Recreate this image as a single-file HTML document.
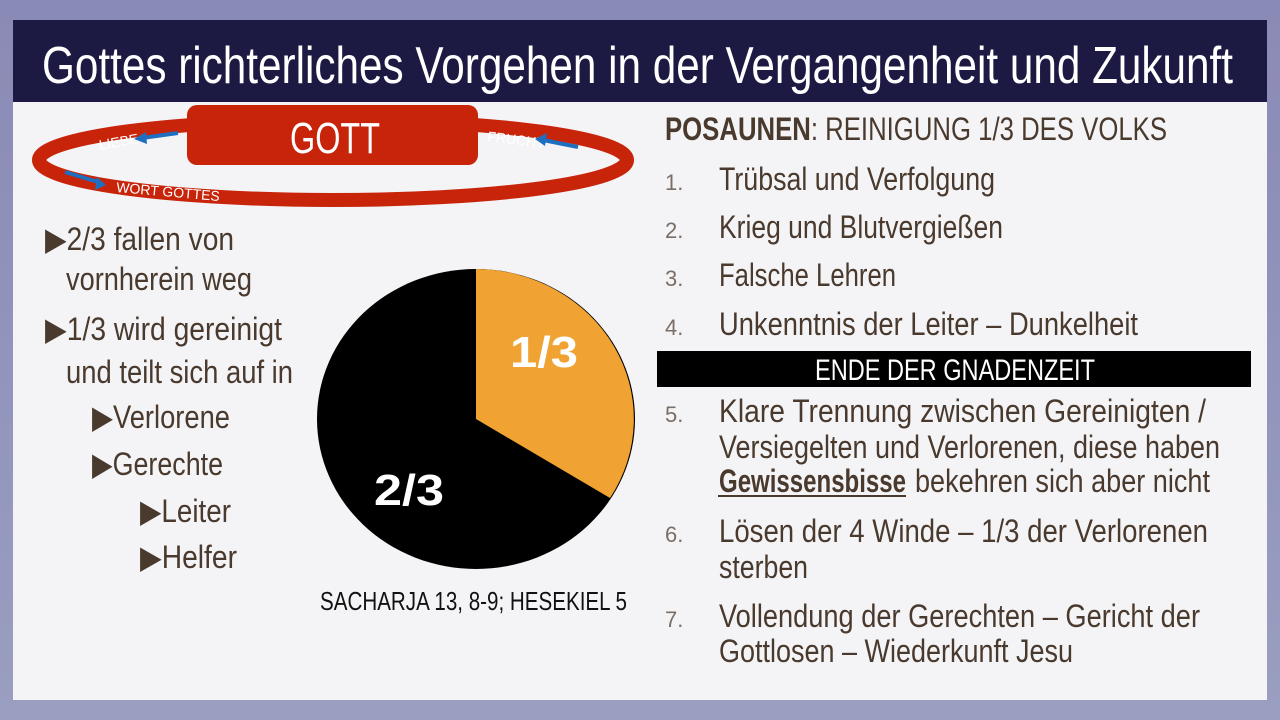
<!DOCTYPE html>
<html><head><meta charset="utf-8"><style>
html,body{margin:0;padding:0;width:1280px;height:720px;overflow:hidden;background:#8c8cb8}
svg{display:block}
text{font-family:"Liberation Sans Narrow","Liberation Sans",sans-serif}
</style></head><body>
<svg width="1280" height="720" viewBox="0 0 1280 720" xmlns="http://www.w3.org/2000/svg">
<defs>
<linearGradient id="bg" x1="0" y1="0" x2="0" y2="1"><stop offset="0" stop-color="#8a8ab6"/><stop offset="1" stop-color="#9a9ec0"/></linearGradient>
</defs>
<rect width="1280" height="720" fill="url(#bg)"/>
<rect x="13" y="20" width="1254" height="680" fill="#f4f4f7"/>
<rect x="13" y="20" width="1254" height="82" fill="#1c1a42"/>
<text x="42" y="83" font-size="52" fill="#fff" textLength="1191" lengthAdjust="spacingAndGlyphs">Gottes richterliches Vorgehen in der Vergangenheit und Zukunft</text>

<ellipse cx="333" cy="160" rx="294" ry="40" fill="none" stroke="#c8240a" stroke-width="14"/>
<rect x="187" y="105" width="291" height="60" rx="10" fill="#c8240a"/>
<text x="290" y="153" font-size="44" fill="#fff" textLength="90" lengthAdjust="spacingAndGlyphs">GOTT</text>
<text x="100" y="150" font-size="14" fill="#fff" transform="rotate(-10 100 150)">LIEBE</text>
<line x1="178" y1="133" x2="142" y2="138" stroke="#1e6fc0" stroke-width="4"/>
<polygon points="134,139 146,132 147,144" fill="#1e6fc0"/>
<text x="487" y="141" font-size="14" fill="#fff" transform="rotate(7 487 141)">FRUCHT</text>
<line x1="578" y1="147" x2="543" y2="140" stroke="#1e6fc0" stroke-width="4"/>
<polygon points="535,139 547,133 545,146" fill="#1e6fc0"/>
<line x1="65" y1="172" x2="98" y2="182" stroke="#1e6fc0" stroke-width="4"/>
<polygon points="106,185 95,190 97,177" fill="#1e6fc0"/>
<text x="116" y="192" font-size="14" fill="#fff" transform="rotate(5 116 192)">WORT GOTTES</text>

<g fill="#4a3a2e" font-size="32">
<text x="45" y="250" textLength="189" lengthAdjust="spacingAndGlyphs">▶2/3 fallen von</text>
<text x="66" y="290" textLength="186" lengthAdjust="spacingAndGlyphs">vornherein weg</text>
<text x="45" y="340" textLength="237" lengthAdjust="spacingAndGlyphs">▶1/3 wird gereinigt</text>
<text x="66" y="383" textLength="227" lengthAdjust="spacingAndGlyphs">und teilt sich auf in</text>
<text x="92" y="428" textLength="138" lengthAdjust="spacingAndGlyphs">▶Verlorene</text>
<text x="92" y="475" textLength="131" lengthAdjust="spacingAndGlyphs">▶Gerechte</text>
<text x="140" y="522" textLength="91" lengthAdjust="spacingAndGlyphs">▶Leiter</text>
<text x="140" y="568" textLength="97" lengthAdjust="spacingAndGlyphs">▶Helfer</text>
</g>

<ellipse cx="476" cy="419" rx="159" ry="150" fill="#000"/>
<path d="M476 419 L476 269 A159 150 0 0 1 610 498 Z" fill="#f0a232"/>
<text x="510" y="367" font-size="44" font-weight="bold" fill="#fff" textLength="68" lengthAdjust="spacingAndGlyphs">1/3</text>
<text x="374" y="505" font-size="44" font-weight="bold" fill="#fff" textLength="70" lengthAdjust="spacingAndGlyphs">2/3</text>
<text x="320" y="610" font-size="26" fill="#111" textLength="307" lengthAdjust="spacingAndGlyphs">SACHARJA 13, 8-9; HESEKIEL 5</text>

<text x="665" y="140" font-size="32" fill="#4a3a2e" textLength="502" lengthAdjust="spacingAndGlyphs"><tspan font-weight="bold">POSAUNEN</tspan>: REINIGUNG 1/3 DES VOLKS</text>
<g fill="#7a6e66" font-size="22">
<text x="665" y="190">1.</text><text x="665" y="238">2.</text><text x="665" y="286">3.</text><text x="665" y="335">4.</text>
<text x="665" y="422">5.</text><text x="665" y="542">6.</text><text x="665" y="627">7.</text>
</g>
<g fill="#4a3a2e" font-size="32">
<text x="719" y="190" textLength="276" lengthAdjust="spacingAndGlyphs">Trübsal und Verfolgung</text>
<text x="719" y="238" textLength="284" lengthAdjust="spacingAndGlyphs">Krieg und Blutvergießen</text>
<text x="719" y="286" textLength="177" lengthAdjust="spacingAndGlyphs">Falsche Lehren</text>
<text x="719" y="335" textLength="419" lengthAdjust="spacingAndGlyphs">Unkenntnis der Leiter – Dunkelheit</text>
<text x="719" y="422" textLength="487" lengthAdjust="spacingAndGlyphs">Klare Trennung zwischen Gereinigten /</text>
<text x="719" y="458" textLength="501" lengthAdjust="spacingAndGlyphs">Versiegelten und Verlorenen, diese haben</text>
<text x="719" y="492" font-weight="bold" textLength="187" lengthAdjust="spacingAndGlyphs">Gewissensbisse</text>
<text x="915" y="492" textLength="295" lengthAdjust="spacingAndGlyphs">bekehren sich aber nicht</text>
<text x="719" y="542" textLength="489" lengthAdjust="spacingAndGlyphs">Lösen der 4 Winde – 1/3 der Verlorenen</text>
<text x="719" y="578" textLength="89" lengthAdjust="spacingAndGlyphs">sterben</text>
<text x="719" y="627" textLength="481" lengthAdjust="spacingAndGlyphs">Vollendung der Gerechten – Gericht der</text>
<text x="719" y="662" textLength="354" lengthAdjust="spacingAndGlyphs">Gottlosen – Wiederkunft Jesu</text>
</g>
<rect x="718" y="495" width="188" height="2" fill="#4a3a2e"/>
<rect x="657" y="351" width="594" height="36" fill="#000"/>
<text x="815" y="380" font-size="30" fill="#fff" textLength="280" lengthAdjust="spacingAndGlyphs">ENDE DER GNADENZEIT</text>
</svg>
</body></html>
